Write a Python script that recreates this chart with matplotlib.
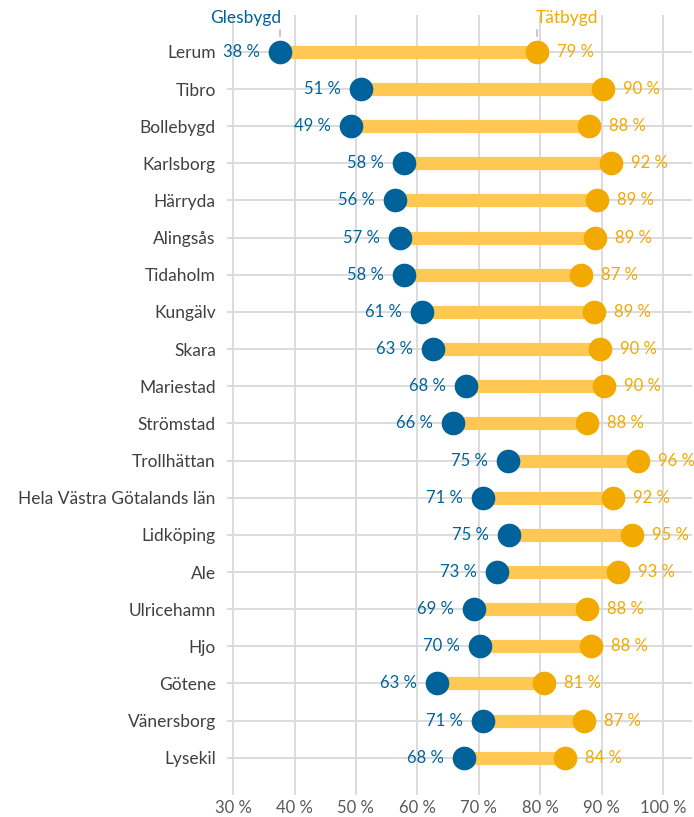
import matplotlib.pyplot as plt

plt.rcParams['font.family'] = ['Lato', 'DejaVu Sans']

kommuner = ['Lerum', 'Tibro', 'Bollebygd', 'Karlsborg', 'Härryda', 'Alingsås',
            'Tidaholm', 'Kungälv', 'Skara', 'Mariestad', 'Strömstad',
            'Trollhättan', 'Hela Västra Götalands län', 'Lidköping', 'Ale',
            'Ulricehamn', 'Hjo', 'Götene', 'Vänersborg', 'Lysekil']
glesbygd = [37.6, 50.8, 49.2, 57.8, 56.3, 57.2, 57.8, 60.7, 62.6, 67.9, 65.8,
            74.7, 70.7, 74.9, 72.9, 69.2, 70.2, 63.2, 70.7, 67.6]
tatbygd = [79.4, 90.3, 87.9, 91.6, 89.3, 89.0, 86.6, 88.7, 89.7, 90.4, 87.6,
           95.9, 91.8, 94.9, 92.6, 87.6, 88.2, 80.6, 87.2, 84.0]
xticks = [30, 40, 50, 60, 70, 80, 90, 100]

blue = '#00629B'
orange = '#F2A900'
bar_col = '#FFC852'
grid_col = '#D9D9D9'

fig = plt.figure(figsize=(6.94, 8.17), dpi=100)
ax = fig.add_axes([0.327, 0.027, 0.670, 0.955])

ypos = list(range(len(kommuner)))

for y, g, t in zip(ypos, glesbygd, tatbygd):
    ax.plot([g, t], [y, y], color=bar_col, lw=9.5, solid_capstyle='butt', zorder=2)
ax.scatter(glesbygd, ypos, s=290, color=blue, zorder=3, linewidths=0)
ax.scatter(tatbygd, ypos, s=290, color=orange, zorder=3, linewidths=0)

for y, g, t in zip(ypos, glesbygd, tatbygd):
    ax.annotate(f'{g:.0f} %', (g, y), xytext=(-20, 0), textcoords='offset pixels',
                ha='right', va='center', color=blue, fontsize=12)
    ax.annotate(f'{t:.0f} %', (t, y), xytext=(20, 0), textcoords='offset pixels',
                ha='left', va='center', color=orange, fontsize=12)

# serie-rubriker ovanför första raden
ax.annotate('Glesbygd', (glesbygd[0], 0), xytext=(1, 34), textcoords='offset pixels',
            ha='right', va='center', color=blue, fontsize=12.5, annotation_clip=False)
ax.annotate('Tätbygd', (tatbygd[0], 0), xytext=(-1, 34), textcoords='offset pixels',
            ha='left', va='center', color=orange, fontsize=12.5, annotation_clip=False)
ax.plot([glesbygd[0]] * 2, [-0.6, -0.43], color='#BFBFBF', lw=1.2, clip_on=False)
ax.plot([tatbygd[0]] * 2, [-0.6, -0.43], color='#BFBFBF', lw=1.2, clip_on=False)

ax.set_xlim(29.0, 104.7)
ax.set_ylim(20.0, -1.0)
ax.set_xticks(xticks)
ax.set_xticklabels([f'{v} %' for v in xticks])
ax.set_yticks(ypos)
ax.set_yticklabels(kommuner)
ax.tick_params(axis='both', length=0, labelcolor='#404040')
ax.tick_params(axis='x', pad=4, labelsize=12, labelcolor='#595959')
ax.tick_params(axis='y', pad=8, labelsize=12.5)
ax.grid(True, color=grid_col, lw=1.3, zorder=0)
ax.set_axisbelow(True)
for s in ax.spines.values():
    s.set_visible(False)

fig.savefig('out.png', dpi=100)
